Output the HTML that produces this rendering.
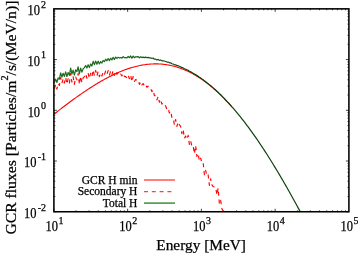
<!DOCTYPE html>
<html><head><meta charset="utf-8"><style>
html,body{margin:0;padding:0;background:#fff;width:358px;height:253px;overflow:hidden}
svg{display:block;will-change:transform}
</style></head><body>
<svg width="358" height="253" viewBox="0 0 358 253">
<rect width="358" height="253" fill="#fff"/>
<path d="M53.90,211.75v-3.0M53.90,8.85v3.0M76.10,211.75v-1.4M76.10,8.85v1.4M89.09,211.75v-1.4M89.09,8.85v1.4M98.30,211.75v-1.4M98.30,8.85v1.4M105.45,211.75v-1.4M105.45,8.85v1.4M111.29,211.75v-1.4M111.29,8.85v1.4M116.23,211.75v-1.4M116.23,8.85v1.4M120.50,211.75v-1.4M120.50,8.85v1.4M124.28,211.75v-1.4M124.28,8.85v1.4M127.65,211.75v-3.0M127.65,8.85v3.0M149.85,211.75v-1.4M149.85,8.85v1.4M162.84,211.75v-1.4M162.84,8.85v1.4M172.05,211.75v-1.4M172.05,8.85v1.4M179.20,211.75v-1.4M179.20,8.85v1.4M185.04,211.75v-1.4M185.04,8.85v1.4M189.98,211.75v-1.4M189.98,8.85v1.4M194.25,211.75v-1.4M194.25,8.85v1.4M198.03,211.75v-1.4M198.03,8.85v1.4M201.40,211.75v-3.0M201.40,8.85v3.0M223.60,211.75v-1.4M223.60,8.85v1.4M236.59,211.75v-1.4M236.59,8.85v1.4M245.80,211.75v-1.4M245.80,8.85v1.4M252.95,211.75v-1.4M252.95,8.85v1.4M258.79,211.75v-1.4M258.79,8.85v1.4M263.73,211.75v-1.4M263.73,8.85v1.4M268.00,211.75v-1.4M268.00,8.85v1.4M271.78,211.75v-1.4M271.78,8.85v1.4M275.15,211.75v-3.0M275.15,8.85v3.0M297.35,211.75v-1.4M297.35,8.85v1.4M310.34,211.75v-1.4M310.34,8.85v1.4M319.55,211.75v-1.4M319.55,8.85v1.4M326.70,211.75v-1.4M326.70,8.85v1.4M332.54,211.75v-1.4M332.54,8.85v1.4M337.48,211.75v-1.4M337.48,8.85v1.4M341.75,211.75v-1.4M341.75,8.85v1.4M345.53,211.75v-1.4M345.53,8.85v1.4M53.9,211.75h3.0M348.9,211.75h-3.0M53.9,196.48h1.4M348.9,196.48h-1.4M53.9,187.55h1.4M348.9,187.55h-1.4M53.9,181.21h1.4M348.9,181.21h-1.4M53.9,176.29h1.4M348.9,176.29h-1.4M53.9,172.28h1.4M348.9,172.28h-1.4M53.9,168.88h1.4M348.9,168.88h-1.4M53.9,165.94h1.4M348.9,165.94h-1.4M53.9,163.35h1.4M348.9,163.35h-1.4M53.9,161.03h3.0M348.9,161.03h-3.0M53.9,145.76h1.4M348.9,145.76h-1.4M53.9,136.82h1.4M348.9,136.82h-1.4M53.9,130.49h1.4M348.9,130.49h-1.4M53.9,125.57h1.4M348.9,125.57h-1.4M53.9,121.55h1.4M348.9,121.55h-1.4M53.9,118.16h1.4M348.9,118.16h-1.4M53.9,115.22h1.4M348.9,115.22h-1.4M53.9,112.62h1.4M348.9,112.62h-1.4M53.9,110.30h3.0M348.9,110.30h-3.0M53.9,95.03h1.4M348.9,95.03h-1.4M53.9,86.10h1.4M348.9,86.10h-1.4M53.9,79.76h1.4M348.9,79.76h-1.4M53.9,74.84h1.4M348.9,74.84h-1.4M53.9,70.83h1.4M348.9,70.83h-1.4M53.9,67.43h1.4M348.9,67.43h-1.4M53.9,64.49h1.4M348.9,64.49h-1.4M53.9,61.90h1.4M348.9,61.90h-1.4M53.9,59.57h3.0M348.9,59.57h-3.0M53.9,44.31h1.4M348.9,44.31h-1.4M53.9,35.37h1.4M348.9,35.37h-1.4M53.9,29.04h1.4M348.9,29.04h-1.4M53.9,24.12h1.4M348.9,24.12h-1.4M53.9,20.10h1.4M348.9,20.10h-1.4M53.9,16.71h1.4M348.9,16.71h-1.4M53.9,13.77h1.4M348.9,13.77h-1.4M53.9,11.17h1.4M348.9,11.17h-1.4" stroke="#000" stroke-width="0.75" fill="none"/>
<path d="M53.90,114.33 L54.90,113.53 L55.90,112.74 L56.90,111.95 L57.90,111.16 L58.90,110.37 L59.90,109.59 L60.90,108.81 L61.90,108.04 L62.90,107.27 L63.90,106.50 L64.90,105.74 L65.90,104.98 L66.90,104.23 L67.90,103.47 L68.90,102.73 L69.90,101.98 L70.90,101.24 L71.90,100.51 L72.90,99.78 L73.90,99.05 L74.90,98.33 L75.90,97.61 L76.90,96.90 L77.90,96.19 L78.90,95.48 L79.90,94.78 L80.90,94.09 L81.90,93.40 L82.90,92.71 L83.90,92.03 L84.90,91.36 L85.90,90.69 L86.90,90.02 L87.90,89.36 L88.90,88.71 L89.90,88.06 L90.90,87.42 L91.90,86.78 L92.90,86.15 L93.90,85.53 L94.90,84.91 L95.90,84.30 L96.90,83.69 L97.90,83.09 L98.90,82.50 L99.90,81.91 L100.90,81.33 L101.90,80.76 L102.90,80.20 L103.90,79.64 L104.90,79.09 L105.90,78.55 L106.90,78.01 L107.90,77.49 L108.90,76.97 L109.90,76.46 L110.90,75.96 L111.90,75.46 L112.90,74.98 L113.90,74.50 L114.90,74.03 L115.90,73.57 L116.90,73.12 L117.90,72.68 L118.90,72.25 L119.90,71.82 L120.90,71.41 L121.90,71.01 L122.90,70.61 L123.90,70.23 L124.90,69.85 L125.90,69.49 L126.90,69.14 L127.90,68.79 L128.90,68.46 L129.90,68.14 L130.90,67.83 L131.90,67.53 L132.90,67.24 L133.90,66.96 L134.90,66.69 L135.90,66.44 L136.90,66.19 L137.90,65.96 L138.90,65.74 L139.90,65.53 L140.90,65.33 L141.90,65.15 L142.90,64.98 L143.90,64.82 L144.90,64.67 L145.90,64.53 L146.90,64.41 L147.90,64.30 L148.90,64.20 L149.90,64.12 L150.90,64.05 L151.90,63.99 L152.90,63.94 L153.90,63.91 L154.90,63.89 L155.90,63.89 L156.90,63.90 L157.90,63.92 L158.90,63.96 L159.90,64.01 L160.90,64.07 L161.90,64.15 L162.90,64.24 L163.90,64.35 L164.90,64.47 L165.90,64.61 L166.90,64.76 L167.90,64.92 L168.90,65.10 L169.90,65.29 L170.90,65.50 L171.90,65.72 L172.90,65.96 L173.90,66.21 L174.90,66.48 L175.90,66.76 L176.90,67.06 L177.90,67.37 L178.90,67.69 L179.90,68.04 L180.90,68.39 L181.90,68.77 L182.90,69.15 L183.90,69.55 L184.90,69.97 L185.90,70.41 L186.90,70.85 L187.90,71.32 L188.90,71.80 L189.90,72.29 L190.90,72.80 L191.90,73.32 L192.90,73.87 L193.90,74.42 L194.90,74.99 L195.90,75.58 L196.90,76.18 L197.90,76.80 L198.90,77.43 L199.90,78.08 L200.90,78.74 L201.90,79.42 L202.90,80.12 L203.90,80.83 L204.90,81.55 L205.90,82.29 L206.90,83.05 L207.90,83.82 L208.90,84.60 L209.90,85.40 L210.90,86.22 L211.90,87.05 L212.90,87.90 L213.90,88.76 L214.90,89.64 L215.90,90.53 L216.90,91.44 L217.90,92.36 L218.90,93.29 L219.90,94.24 L220.90,95.21 L221.90,96.19 L222.90,97.19 L223.90,98.20 L224.90,99.22 L225.90,100.26 L226.90,101.31 L227.90,102.38 L228.90,103.46 L229.90,104.56 L230.90,105.67 L231.90,106.79" stroke="#ff0000" stroke-width="1.1" fill="none" stroke-linejoin="round"/>
<path d="M54.40,88.73 L55.65,84.44 L56.90,89.10 L58.15,83.54 L59.40,85.46 L60.65,77.57 L61.90,83.26 L63.15,78.67 L64.40,83.01 L65.65,77.38 L66.90,83.97 L68.15,78.72 L69.40,83.04 L70.65,73.50 L71.90,82.05 L73.15,76.74 L74.40,84.30 L75.65,77.05 L76.90,79.89 L78.15,73.53 L79.40,84.47 L80.65,76.18 L81.90,82.66 L83.15,77.83 L84.40,76.66 L85.65,73.87 L86.90,78.23 L88.15,73.50 L89.40,78.45 L90.65,73.22 L91.90,76.93 L93.15,70.00 L94.40,75.61 L95.65,70.46 L96.90,76.05 L98.15,71.43 L99.40,76.65 L100.65,73.10 L101.90,76.01 L103.15,72.15 L104.40,74.63 L105.65,70.98 L106.90,74.24 L108.15,70.66 L109.40,75.10 L110.65,71.20 L111.90,74.89 L113.15,70.54 L114.40,75.32 L115.65,71.15 L116.90,74.29 L118.15,72.55 L119.40,74.76 L120.65,74.05 L121.90,75.99 L123.15,73.37 L124.40,76.38 L125.65,76.64 L126.90,78.01 L128.15,75.21 L129.40,78.76 L130.65,75.21 L131.90,81.60 L133.15,76.49 L134.40,81.46 L135.65,79.49 L136.90,80.19 L138.15,80.09 L139.40,84.39 L140.65,81.85 L141.90,84.91 L143.15,83.60 L144.40,85.81 L145.65,84.58 L146.90,87.30 L148.15,86.23 L149.40,88.54 L150.65,88.66 L151.90,91.64 L153.15,89.92 L154.40,95.69 L155.65,95.57 L156.90,99.86 L158.15,96.45 L159.40,102.20 L160.65,99.38 L161.90,104.21 L163.15,102.87 L164.40,103.98 L165.65,106.03 L166.90,109.37 L168.15,108.40 L169.40,112.98 L170.65,111.26 L171.90,117.43 L173.15,117.82 L174.40,124.82 L175.65,119.48 L176.90,126.41 L178.15,122.11 L179.40,124.88 L180.65,126.30 L181.90,133.69 L183.15,129.56 L184.40,138.31 L185.65,136.09 L186.90,139.24 L188.15,135.31 L189.40,144.33 L190.65,140.84 L191.90,146.43 L193.15,145.92 L194.40,153.72 L195.65,145.54 L196.90,156.39 L198.15,153.50 L199.40,161.08 L200.65,158.17 L201.90,162.80 L203.15,162.43 L204.40,174.79 L205.65,170.26 L206.90,176.05 L208.15,174.97 L209.40,185.34 L210.65,178.76 L211.90,184.98 L213.15,186.57 L214.40,187.05 L215.65,187.17 L216.90,194.94 L218.15,188.24 L219.40,203.86 L220.65,200.45 L221.90,208.78 L223.15,210.95" stroke="#ff0000" stroke-width="1.15" fill="none" stroke-dasharray="4 3.8" stroke-linejoin="round"/>
<defs><linearGradient id="gg" gradientUnits="userSpaceOnUse" x1="110" y1="0" x2="190" y2="0"><stop offset="0" stop-color="#1d6b1d"/><stop offset="1" stop-color="#0b420b"/></linearGradient></defs>
<path d="M54.40,82.64 L55.65,79.10 L56.90,82.42 L58.15,77.97 L59.40,79.20 L60.65,72.83 L61.90,77.06 L63.15,73.31 L64.40,76.40 L65.65,71.88 L66.90,76.58 L68.15,72.47 L69.40,75.37 L70.65,68.04 L71.90,74.13 L73.15,70.06 L74.40,75.07 L75.65,69.79 L76.90,71.53 L78.15,66.75 L79.40,73.89 L80.65,68.14 L81.90,72.11 L83.15,68.71 L84.40,67.65 L85.65,65.49 L86.90,68.08 L88.15,64.71 L89.40,67.59 L90.65,63.98 L91.90,66.04 L93.15,61.30 L94.40,64.63 L95.65,61.09 L96.90,64.27 L98.15,61.17 L99.40,63.98 L100.65,61.62 L101.90,62.99 L103.15,60.48 L104.40,61.60 L105.65,59.22 L106.90,60.78 L108.15,58.49 L109.40,60.62 L110.65,58.23 L111.90,59.90 L113.15,57.32 L114.40,59.52 L115.65,57.11 L116.90,58.43 L118.15,57.29 L119.40,58.08 L120.65,57.48 L121.90,58.09 L123.15,56.62 L124.40,57.71 L125.65,57.56 L126.90,57.86 L128.15,56.45 L129.40,57.64 L130.65,55.98 L131.90,58.19 L133.15,56.07 L134.40,57.68 L135.65,56.78 L136.90,56.83 L138.15,56.61 L139.40,57.80 L140.65,56.84 L141.90,57.61 L143.15,57.08 L144.40,57.58 L145.65,57.10 L146.90,57.74 L148.15,57.35 L149.40,57.87 L150.65,57.82 L151.90,58.46 L153.15,58.03 L154.40,59.23 L155.65,59.20 L156.90,59.97 L158.15,59.40 L159.40,60.40 L160.65,60.02 L161.90,60.84 L163.15,60.75 L164.40,61.03 L165.65,61.45 L166.90,62.03 L168.15,62.09 L169.40,62.81 L170.65,62.85 L171.90,63.71 L173.15,64.02 L174.40,64.84 L175.65,64.77 L176.90,65.62 L178.15,65.68 L179.40,66.27 L180.65,66.77 L181.90,67.64 L183.15,67.87 L184.40,68.80 L185.65,69.21 L186.90,69.89 L188.15,70.26 L189.40,71.23 L190.65,71.70 L191.90,72.54 L193.15,73.18 L194.40,74.10 L195.65,74.54 L196.90,75.61 L198.15,76.28 L199.40,77.26 L200.65,77.99 L201.90,78.93 L203.15,79.77 L204.40,80.87 L205.65,81.71 L206.90,82.73 L208.15,83.66 L209.40,84.77 L210.65,85.69 L211.90,86.80 L213.15,87.86 L214.40,88.94 L215.65,90.04 L216.90,91.24 L218.15,92.31 L219.40,93.62 L220.65,94.79 L221.90,96.06 L223.15,97.31 L224.40,98.71 L225.65,100.00 L226.90,101.31 L228.15,102.65 L229.40,104.01 L230.65,105.39 L231.90,106.79 L233.15,108.22 L234.40,109.66 L235.65,111.13 L236.90,112.62 L238.15,114.13 L239.40,115.66 L240.65,117.21 L241.90,118.78 L243.15,120.38 L244.40,121.99 L245.65,123.62 L246.90,125.28 L248.15,126.95 L249.40,128.65 L250.65,130.36 L251.90,132.09 L253.15,133.84 L254.40,135.61 L255.65,137.40 L256.90,139.20 L258.15,141.03 L259.40,142.87 L260.65,144.73 L261.90,146.61 L263.15,148.51 L264.40,150.42 L265.65,152.35 L266.90,154.30 L268.15,156.26 L269.40,158.24 L270.65,160.23 L271.90,162.25 L273.15,164.27 L274.40,166.32 L275.65,168.38 L276.90,170.45 L278.15,172.54 L279.40,174.64 L280.65,176.76 L281.90,178.89 L283.15,181.04 L284.40,183.20 L285.65,185.37 L286.90,187.56 L288.15,189.76 L289.40,191.98 L290.65,194.20 L291.90,196.44 L293.15,198.70 L294.40,200.96 L295.65,203.24 L296.90,205.53 L298.15,207.84 L299.40,210.15 L300.26,211.75" stroke="url(#gg)" stroke-width="1.2" fill="none" stroke-linejoin="round"/>
<rect x="53.9" y="8.85" width="295.00" height="202.90" fill="none" stroke="#000" stroke-width="1.55"/>
<g font-family="&quot;Liberation Serif&quot;, serif" fill="#000" stroke="#000" stroke-width="0.25" font-size="14.5">
<text x="27.43" y="15.05" textLength="12.45" lengthAdjust="spacingAndGlyphs">10</text>
<text x="46.0" y="7.75" text-anchor="end" font-size="10">2</text>
<text x="27.53" y="65.77" textLength="12.45" lengthAdjust="spacingAndGlyphs">10</text>
<text x="46.0" y="58.47" text-anchor="end" font-size="10">1</text>
<text x="27.63" y="116.50" textLength="12.45" lengthAdjust="spacingAndGlyphs">10</text>
<text x="46.0" y="109.20" text-anchor="end" font-size="10">0</text>
<text x="23.93" y="167.22" textLength="12.45" lengthAdjust="spacingAndGlyphs">10</text>
<text x="46.0" y="159.93" text-anchor="end" font-size="10">-1</text>
<text x="23.93" y="217.95" textLength="12.45" lengthAdjust="spacingAndGlyphs">10</text>
<text x="46.0" y="210.65" text-anchor="end" font-size="10">-2</text>
<text x="45.43" y="231.40" textLength="12.45" lengthAdjust="spacingAndGlyphs">10</text>
<text x="60.90" y="223.7" text-anchor="middle" font-size="10">1</text>
<text x="119.18" y="231.40" textLength="12.45" lengthAdjust="spacingAndGlyphs">10</text>
<text x="134.65" y="223.7" text-anchor="middle" font-size="10">2</text>
<text x="192.93" y="231.40" textLength="12.45" lengthAdjust="spacingAndGlyphs">10</text>
<text x="208.40" y="223.7" text-anchor="middle" font-size="10">3</text>
<text x="266.68" y="231.40" textLength="12.45" lengthAdjust="spacingAndGlyphs">10</text>
<text x="282.15" y="223.7" text-anchor="middle" font-size="10">4</text>
<text x="340.43" y="231.40" textLength="12.45" lengthAdjust="spacingAndGlyphs">10</text>
<text x="355.90" y="223.7" text-anchor="middle" font-size="10">5</text>
</g>
<g font-family="&quot;Liberation Serif&quot;, serif" fill="#000" stroke="#000" stroke-width="0.25">
<text x="156.3" y="249.9" font-size="15.5" textLength="89.6" lengthAdjust="spacingAndGlyphs">Energy [MeV]</text>
<text transform="translate(16.25,234.6) rotate(-90)" font-size="15.3" textLength="234" lengthAdjust="spacingAndGlyphs">GCR fluxes [Particles/m<tspan font-size="10" dy="-8.5">2</tspan><tspan dy="8.5">/s/(MeV/n)]</tspan></text>
</g>
<g font-family="&quot;Liberation Serif&quot;, serif" fill="#000" stroke="#000" stroke-width="0.25" font-size="11.5" text-anchor="end">
<text x="137.4" y="184.2">GCR H min</text>
<text x="137.4" y="195.3">Secondary H</text>
<text x="137.4" y="206.5">Total H</text>
</g>
<path d="M144,180H175" stroke="#ff6060" stroke-width="1.6"/>
<path d="M144,191.6H175" stroke="#ff4040" stroke-width="1.4" stroke-dasharray="4 3.8"/>
<path d="M144,203.1H175" stroke="#4a944a" stroke-width="1.6"/>
</svg>
</body></html>
